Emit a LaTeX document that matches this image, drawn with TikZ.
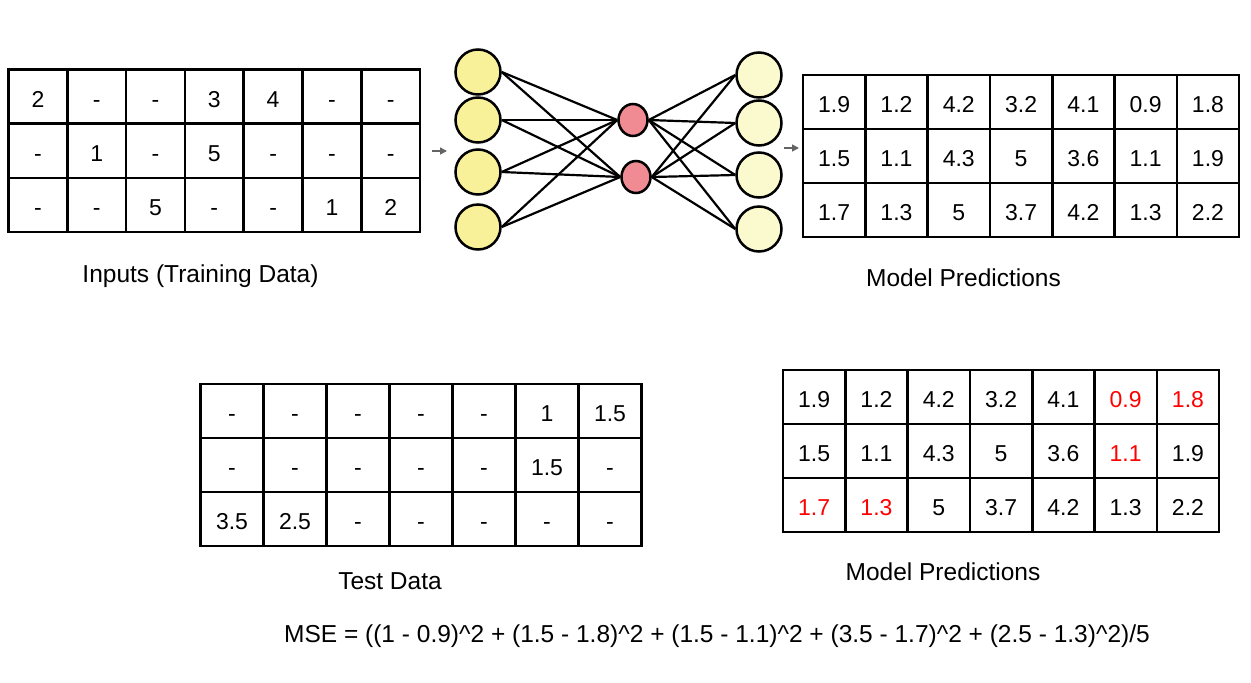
\documentclass[tikz,border=0pt]{standalone}
\usepackage{fontspec}
\setmainfont{Liberation Sans}
\usetikzlibrary{arrows.meta,shapes.geometric}
\pgfdeclarelayer{background}
\pgfsetlayers{background,main}
\definecolor{inyellow}{RGB}{248,241,153}
\definecolor{outyellow}{RGB}{251,250,206}
\definecolor{hidred}{RGB}{241,139,147}
\definecolor{arrowgray}{RGB}{100,100,100}
\newcommand{\mytable}[6]{%
  \foreach \row [count=\r] in {#6} {
    \foreach \val [count=\k] in \row {
      \node[cell, minimum width=#4pt, minimum height=#5pt] (#1-\r-\k)
        at ({#2+(\k-0.5)*#4}, {#3+(\r-0.5)*#5}) {\val};
    }
  }}
\tikzset{
  cell/.style={draw, line width=2.6pt, inner sep=0pt, text height=21.5pt, text depth=0pt,
    font=\fontsize{23}{27}\selectfont},
  label/.style={anchor=base, inner sep=0pt, font=\fontsize{24.5}{29}\selectfont},
  inneuron/.style={circle, draw, line width=2.5pt, fill=inyellow, minimum size=45pt, inner sep=0pt},
  outneuron/.style={circle, draw, line width=2.5pt, fill=outyellow, minimum size=45pt, inner sep=0pt},
  hidneuron/.style={ellipse, draw, line width=2.5pt, fill=hidred, minimum width=29pt, minimum height=32pt, inner sep=0pt},
  link/.style={line width=2.2pt, black},
  flow/.style={line width=1.4pt, arrowgray, -{Triangle[length=7pt,width=7pt]}}
}
\begin{document}
\begin{tikzpicture}[x=1pt,y=-1pt]
\useasboundingbox (0,0) rectangle (1251,683);
% tables
\mytable{train}{8.5}{69.5}{58.8}{54.2}{{2,-,-,3,4,-,-},{-,1,-,5,-,-,-},{-,-,5,-,-,1,2}}
\mytable{pred}{803}{75}{62.3}{54}{{1.9,1.2,4.2,3.2,4.1,0.9,1.8},{1.5,1.1,4.3,5,3.6,1.1,1.9},{1.7,1.3,5,3.7,4.2,1.3,2.2}}
\mytable{test}{200.5}{384}{63}{54}{{-,-,-,-,-,1,1.5},{-,-,-,-,-,1.5,-},{3.5,2.5,-,-,-,-,-}}
\mytable{eval}{783}{370}{62.3}{54}{{1.9,1.2,4.2,3.2,4.1,\textcolor{red}{0.9},\textcolor{red}{1.8}},{1.5,1.1,4.3,5,3.6,\textcolor{red}{1.1},1.9},{\textcolor{red}{1.7},\textcolor{red}{1.3},5,3.7,4.2,1.3,2.2}}
% network
\node[hidneuron] (h1) at (633,120) {};
\node[hidneuron] (h2) at (636,177) {};
\foreach \i/\y in {1/72,2/120,3/172,4/227} {
  \node[inneuron] (i\i) at (478,\y) {};
}
\foreach \i/\y in {1/75,2/123,3/175,4/229} {
  \node[outneuron] (o\i) at (759,\y) {};
}
\begin{pgfonlayer}{background}
\foreach \i in {1,...,4} {
  \foreach \h in {1,2} {
    \draw[link] (i\i.east) -- (h\h.west);
    \draw[link] (h\h.east) -- (o\i.west);
  }
}
\end{pgfonlayer}
% flow arrows
\coordinate (a1s) at (432,151);
\coordinate (a1e) at (447,151);
\coordinate (a2s) at (784,148);
\coordinate (a2e) at (799,148);
\draw[flow] (a1s) -- (a1e);
\draw[flow] (a2s) -- (a2e);
% labels
\node[label] (l1) at (200.5,282) {Inputs (Training Data)};
\node[label] (l2) at (963.5,286) {Model Predictions};
\node[label] (l3) at (390,589) {Test Data};
\node[label] (l4) at (943,580) {Model Predictions};
\node[label] (mse) at (717,642) {MSE = ((1 - 0.9)\textasciicircum 2 + (1.5 - 1.8)\textasciicircum 2 + (1.5 - 1.1)\textasciicircum 2 + (3.5 - 1.7)\textasciicircum 2 + (2.5 - 1.3)\textasciicircum 2)/5};
\end{tikzpicture}
\end{document}
